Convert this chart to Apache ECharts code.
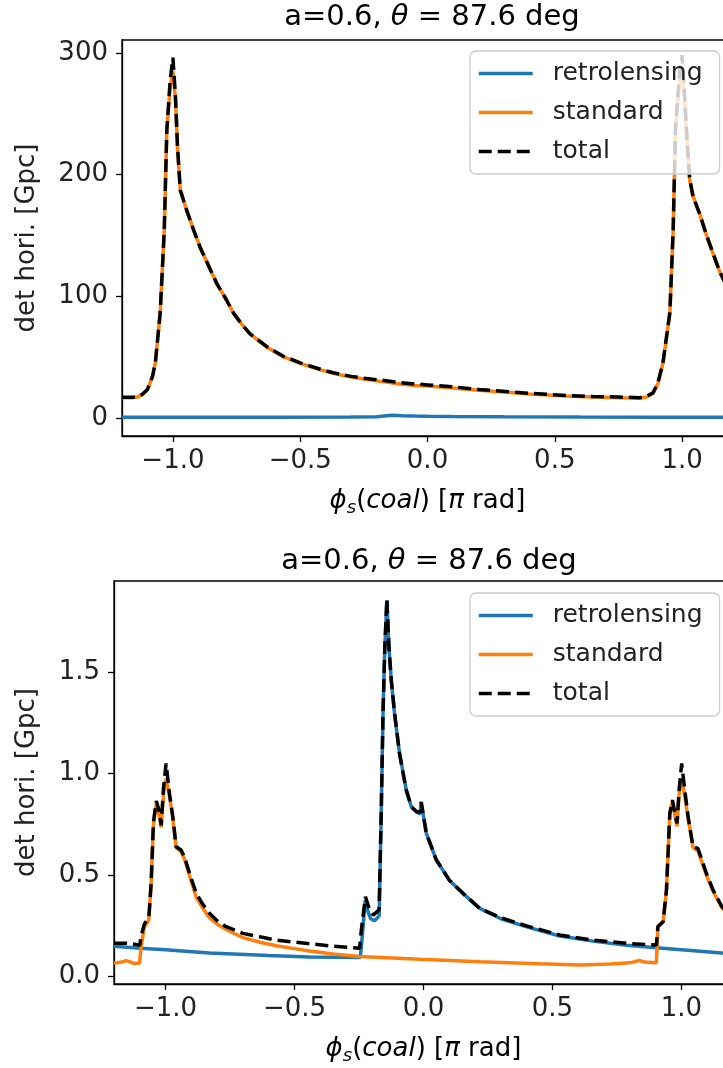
<!DOCTYPE html>
<html>
<head>
<meta charset="utf-8">
<script src="https://cdn.jsdelivr.net/npm/echarts@6/dist/echarts.min.js"></script>
<style>
  html, body { margin: 0; padding: 0; overflow: hidden; background: #fff; }
  #chart { width: 760px; height: 1068px; }
</style>
</head>
<body>
<div id="chart"></div>
<script>
// ---- data ----
const seriesNames = ['retrolensing', 'standard', 'total']
const xTicks = [-1.0, -0.5, 0.0, 0.5, 1.0]
const yTicksTop = [0, 100, 200, 300]
const yTicksBottom = [0.0, 0.5, 1.0, 1.5]

// top panel
const topRetroX = [-1.2, -0.9, -0.6, -0.3, -0.2, -0.16, -0.14, -0.1, -0.05, 0.0, 0.1, 0.3, 0.6, 0.9, 1.2]
const topRetroY = [0.4, 0.45, 0.5, 0.6, 0.8, 1.6, 2.0, 1.7, 1.4, 1.2, 1.0, 0.8, 0.6, 0.5, 0.5]

const topStdX = [-1.2, -1.16, -1.14, -1.12, -1.10, -1.08, -1.069, -1.05, -1.034, -1.024, -1.011, -1.0,
  -0.99, -0.982, -0.971, -0.945, -0.92, -0.893, -0.86, -0.827, -0.79, -0.762, -0.73, -0.697, -0.631,
  -0.57, -0.5, -0.43, -0.37, -0.3, -0.239, -0.17, -0.108, -0.05, 0.0, 0.1, 0.2, 0.285, 0.4, 0.546,
  0.65, 0.75, 0.834, 0.86, 0.886, 0.905, 0.925, 0.952, 0.965, 0.974, 0.991, 1.0, 1.01, 1.017, 1.03,
  1.043, 1.07, 1.096, 1.12, 1.148, 1.175, 1.2]
const topStdY = [16.5, 16.5, 17, 19, 23, 34, 45, 86, 154, 236, 272, 285,
  262, 222, 187, 170, 155, 140, 125, 110, 97, 86, 77, 69, 58,
  50.5, 44.7, 40, 36.5, 33.5, 31.5, 29.5, 27.7, 26.6, 26, 24.5, 22.6, 21.4, 19.5, 17.8,
  17, 16.5, 16, 17, 20, 28, 45, 86, 154, 236, 280, 288, 262, 236, 195,
  182, 167, 150, 136, 120, 108, 97]
const topTotalY = [16.8, 16.8, 17.3, 19.3, 23.3, 34.3, 45.3, 86.3, 154, 236, 277, 296,
  264, 223, 187, 170, 155, 140, 125, 110, 97, 86, 77, 69, 58.4,
  50.9, 45.1, 40.5, 37, 34, 32.2, 30.6, 28.9, 27.8, 27, 25.4, 23.3, 22, 20.1, 18.3,
  17.5, 17, 16.5, 17.5, 20.5, 28.5, 45.5, 86.5, 154.5, 237, 286, 298, 264, 237, 196,
  182, 167, 150, 136, 120, 108, 97]

// bottom panel
const botRetroX = [-1.2, -1.1, -1.0, -0.83, -0.6, -0.442, -0.245, -0.236, -0.226, -0.215, -0.205,
  -0.19, -0.178, -0.172, -0.164, -0.157, -0.15, -0.142, -0.134, -0.125, -0.112, -0.093, -0.067,
  -0.047, -0.026, -0.013, -0.009, 0.011, 0.05, 0.1, 0.153, 0.218, 0.3, 0.4, 0.528, 0.657, 0.787,
  0.903, 1.0, 1.157, 1.2]
const botRetroY = [0.150, 0.140, 0.132, 0.117, 0.104, 0.097, 0.094, 0.22, 0.375, 0.32, 0.285,
  0.275, 0.29, 0.30, 0.80, 1.29, 1.62, 1.85, 1.62, 1.46, 1.29, 1.10, 0.92,
  0.835, 0.81, 0.80, 0.86, 0.705, 0.574, 0.475, 0.41, 0.336, 0.285, 0.245, 0.200, 0.175, 0.155,
  0.142, 0.133, 0.117, 0.113]

const botStdX = [-1.2, -1.17, -1.153, -1.135, -1.127, -1.101, -1.095, -1.082, -1.065, -1.056, -1.047,
  -1.036, -1.026, -1.017, -1.008, -0.998, -0.985, -0.972, -0.959, -0.94, -0.927, -0.907, -0.881,
  -0.855, -0.83, -0.8, -0.765, -0.73, -0.7, -0.63, -0.571, -0.5, -0.442, -0.35, -0.25, -0.015,
  0.218, 0.45, 0.605, 0.722, 0.8, 0.838, 0.855,
  0.903, 0.909, 0.929, 0.942, 0.955, 0.965, 0.974, 0.983, 0.991, 1.001, 1.013, 1.026, 1.045, 1.064,
  1.097, 1.123, 1.157, 1.2]
const botStdY = [0.066, 0.072, 0.079, 0.072, 0.066, 0.066, 0.148, 0.246, 0.279, 0.459, 0.754,
  0.850, 0.800, 0.735, 0.90, 0.975, 0.89, 0.78, 0.635, 0.615, 0.58, 0.495, 0.39,
  0.335, 0.29, 0.258, 0.232, 0.21, 0.192, 0.168, 0.152, 0.138, 0.126, 0.112, 0.099, 0.086,
  0.074, 0.064, 0.058, 0.062, 0.068, 0.080, 0.072,
  0.069, 0.25, 0.27, 0.426, 0.80, 0.86, 0.80, 0.74, 0.90, 0.975, 0.89, 0.78, 0.635, 0.62,
  0.50, 0.42, 0.34, 0.28]

const botTotalX = [-1.2, -1.15, -1.12, -1.10, -1.095, -1.082, -1.065, -1.056, -1.047, -1.036, -1.026,
  -1.017, -1.008, -0.998, -0.985, -0.972, -0.959, -0.94, -0.927, -0.907, -0.881, -0.855, -0.83,
  -0.8, -0.765, -0.73, -0.7, -0.63, -0.571, -0.5, -0.442, -0.35, -0.248, -0.241, -0.225, -0.209,
  -0.195, -0.18, -0.172, -0.164,
  -0.157, -0.15, -0.142, -0.134, -0.125, -0.112, -0.093, -0.067, -0.047, -0.026, -0.012, -0.009,
  0.011, 0.05, 0.1, 0.153, 0.218, 0.3, 0.4, 0.528, 0.657, 0.787, 0.903, 0.909, 0.929, 0.942,
  0.955, 0.965, 0.974, 0.983, 0.991, 1.001, 1.013, 1.026, 1.045, 1.064, 1.097, 1.123, 1.157, 1.2]
const botTotalY = [0.164, 0.165, 0.160, 0.155, 0.20, 0.26, 0.29, 0.46, 0.76, 0.865, 0.82,
  0.745, 0.93, 1.049, 0.90, 0.787, 0.639, 0.623, 0.590, 0.508, 0.41, 0.355, 0.312,
  0.275, 0.246, 0.228, 0.213, 0.195, 0.180, 0.170, 0.162, 0.15, 0.140, 0.23, 0.393, 0.328,
  0.303, 0.32, 0.33, 0.803,
  1.295, 1.622, 1.86, 1.62, 1.459, 1.295, 1.098, 0.918, 0.836, 0.811, 0.81, 0.860,
  0.705, 0.574, 0.475, 0.41, 0.336, 0.29, 0.25, 0.205, 0.180, 0.164, 0.156, 0.246, 0.27, 0.426,
  0.803, 0.869, 0.811, 0.754, 0.918, 1.049, 0.918, 0.787, 0.639, 0.631, 0.508, 0.426, 0.344, 0.29]

// ---- helpers ----
const FONT = 'DejaVu Sans'
const BLUE = '#1f77b4'
const ORANGE = '#ff7f0e'
const zip = (xs, ys) => xs.map((x, i) => [x, ys[i]])
const minus = (s) => s.replace('-', '\u2212')

const titleText = '{n|a=0.6, }{i|\u03b8}{n| = 87.6 deg}'
const titleRich = {
  n: { fontFamily: FONT, fontSize: 29, fontWeight: 'normal', color: '#000' },
  i: { fontFamily: FONT, fontSize: 29, fontWeight: 'normal', fontStyle: 'italic', color: '#000' },
}
const xName = '{i|\u03d5}{s|s}{n|(}{i|coal}{n|) [}{i|\u03c0}{n| rad]}'
const xNameRich = {
  n: { fontFamily: FONT, fontSize: 26, color: '#000' },
  i: { fontFamily: FONT, fontSize: 26, fontStyle: 'italic', color: '#000' },
  s: { fontFamily: FONT, fontSize: 18, fontStyle: 'italic', color: '#000', padding: [14, 0, 0, 0] },
}

function xAxis(gridIndex) {
  return {
    type: 'value', gridIndex, min: -1.2, max: 1.2,
    axisLine: { show: true, onZero: false, lineStyle: { color: '#000', width: 1.3 } },
    axisTick: { show: true, length: 6, customValues: xTicks, lineStyle: { color: '#000', width: 1.3 } },
    axisLabel: {
      customValues: xTicks, margin: 12, fontSize: 26, fontFamily: FONT, color: '#222',
      formatter: (v) => minus(v.toFixed(1)),
    },
    splitLine: { show: false },
    name: xName, nameLocation: 'middle', nameGap: 49,
    nameTextStyle: { rich: xNameRich },
  }
}

function yAxis(gridIndex, min, max, ticks, digits, gap) {
  return {
    type: 'value', gridIndex, min, max,
    axisLine: { show: true, onZero: false, lineStyle: { color: '#000', width: 1.3 } },
    axisTick: { show: true, length: 6, customValues: ticks, lineStyle: { color: '#000', width: 1.3 } },
    axisLabel: {
      customValues: ticks, margin: 14, fontSize: 26, fontFamily: FONT, color: '#222',
      formatter: (v) => v.toFixed(digits),
    },
    splitLine: { show: false },
    name: 'det hori. [Gpc]', nameLocation: 'middle', nameGap: gap,
    nameTextStyle: { fontSize: 26, fontFamily: FONT, color: '#222' },
  }
}

function legend(top) {
  return {
    data: seriesNames, orient: 'vertical', left: 470, top,
    itemWidth: 54, itemHeight: 2, itemGap: 12, selectedMode: false,
    itemStyle: { opacity: 0 },
    lineStyle: { width: 3.5 },
    padding: [9, 17, 9, 7],
    backgroundColor: 'rgba(255,255,255,0.8)', borderColor: '#cccccc', borderWidth: 1.3, borderRadius: 6,
    textStyle: { fontSize: 25, fontFamily: FONT, color: '#222', lineHeight: 27, padding: [0, 0, 0, 15] },
  }
}

function line(name, idx, data, color, dashed) {
  return {
    name, type: 'line', xAxisIndex: idx, yAxisIndex: idx, data,
    showSymbol: false, symbol: 'none', smooth: false, animation: false,
    lineStyle: { color, width: 3.5, type: dashed ? [13, 6] : 'solid' },
    itemStyle: { color },
  }
}

const chart = echarts.init(document.getElementById('chart'))
chart.setOption({
  animation: false,
  title: [
    { text: titleText, left: 427, top: -2, textAlign: 'center', textStyle: { fontWeight: 'normal', rich: titleRich } },
    { text: titleText, left: 424, top: 542, textAlign: 'center', textStyle: { fontWeight: 'normal', rich: titleRich } },
  ],
  legend: [legend(51), legend(593)],
  grid: [
    { left: 122, top: 40, width: 611, height: 396, show: true, borderColor: '#000', borderWidth: 1.3, containLabel: false },
    { left: 114, top: 581, width: 619, height: 403, show: true, borderColor: '#000', borderWidth: 1.3, containLabel: false },
  ],
  xAxis: [xAxis(0), xAxis(1)],
  yAxis: [yAxis(0, -15, 310.5, yTicksTop, 0, 82), yAxis(1, -0.036, 1.947, yTicksBottom, 1, 74)],
  series: [
    line('retrolensing', 0, zip(topRetroX, topRetroY), BLUE, false),
    line('standard', 0, zip(topStdX, topStdY), ORANGE, false),
    line('total', 0, zip(topStdX, topTotalY), '#000', true),
    line('retrolensing', 1, zip(botRetroX, botRetroY), BLUE, false),
    line('standard', 1, zip(botStdX, botStdY), ORANGE, false),
    line('total', 1, zip(botTotalX, botTotalY), '#000', true),
  ],
})
window.addEventListener('resize', () => chart.resize())
</script>
</body>
</html>
